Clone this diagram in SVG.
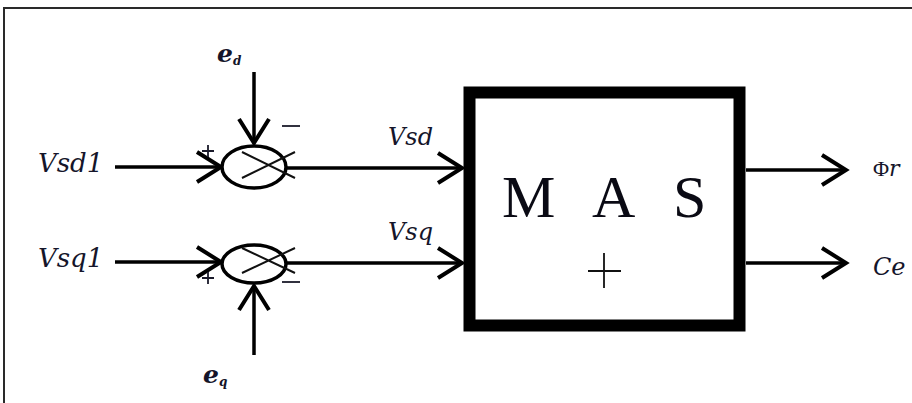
<svg xmlns="http://www.w3.org/2000/svg" width="912" height="403" viewBox="0 0 912 403">
<style>
.ln{stroke:#000;stroke-width:3.5;fill:none}
.lbl{font-family:"DejaVu Serif",serif;font-style:italic;fill:#15152a}
.sgn{stroke:#1a1a2a;stroke-width:1.8;fill:none}
.x{stroke:#111;stroke-width:2;fill:none}
.mas{font-family:"Liberation Serif",serif;font-size:60px;fill:#0a0a14}
</style>
<defs>
<marker id="ah" markerUnits="userSpaceOnUse" markerWidth="40" markerHeight="40" viewBox="-30 -20 40 40" refX="0" refY="0" orient="auto" overflow="visible">
<path d="M-24,-15 L0,0 L-24,15" stroke="#000" stroke-width="4" fill="none"/>
</marker>
</defs>
<rect width="912" height="403" fill="#fff"/>
<g id="frame"><path d="M4,403 V8 H912" stroke="#2a2a2a" stroke-width="2" fill="none"/></g>
<g id="connectors">
<line class="ln" x1="115" y1="167" x2="221" y2="167" marker-end="url(#ah)"/>
<line class="ln" x1="287" y1="168" x2="462" y2="168" marker-end="url(#ah)"/>
<line class="ln" x1="115" y1="262" x2="221" y2="262" marker-end="url(#ah)"/>
<line class="ln" x1="287" y1="263" x2="462" y2="263" marker-end="url(#ah)"/>
<line class="ln" x1="746" y1="170" x2="846" y2="170" marker-end="url(#ah)"/>
<line class="ln" x1="746" y1="263" x2="846" y2="263" marker-end="url(#ah)"/>
<line class="ln" x1="254" y1="72" x2="254" y2="143" marker-end="url(#ah)"/>
<line class="ln" x1="254" y1="355" x2="254" y2="286" marker-end="url(#ah)"/>
</g>
<g id="sum1">
<ellipse cx="254" cy="167" rx="32" ry="21" fill="#fff" stroke="#000" stroke-width="3.5"/>
<path class="x" d="M242,152 L295,178 M242,178 L295,152"/>
<path class="sgn" d="M202,151 H214 M208,145 V157"/>
<path class="sgn" d="M282,126 H300"/>
</g>
<g id="sum2">
<ellipse cx="254" cy="264" rx="32" ry="19" fill="#fff" stroke="#000" stroke-width="3.5"/>
<path class="x" d="M242,248 L295,273 M242,273 L295,248"/>
<path class="sgn" d="M202,278 H214 M208,272 V284"/>
<path class="sgn" d="M282,282 H300"/>
</g>
<g id="mas">
<rect x="469.5" y="92.5" width="270" height="233" fill="#fff" stroke="#000" stroke-width="12"/>
<text class="mas" y="217"><tspan x="502">M</tspan><tspan x="592">A</tspan><tspan x="673">S</tspan></text>
<path d="M588,271 H621 M604,253 V288" stroke="#111" stroke-width="1.8"/>
</g>
<g id="labels">
<text class="lbl" x="38" y="172" font-size="26">Vsd1</text>
<text class="lbl" x="38" y="267" font-size="26">Vsq1</text>
<text class="lbl" x="388" y="145" font-size="24">Vsd</text>
<text class="lbl" x="388" y="240" font-size="24">Vsq</text>
<text class="lbl" x="873" y="176" font-size="22"><tspan font-style="normal" font-family="Liberation Serif,serif">Φ</tspan>r</text>
<text class="lbl" x="873" y="275" font-size="24">Ce</text>
<text class="lbl" x="217" y="62" font-size="25" font-weight="bold">e<tspan font-size="12" dy="3">d</tspan></text>
<text class="lbl" x="203" y="383" font-size="25" font-weight="bold">e<tspan font-size="12" dy="3">q</tspan></text>
</g>
</svg>
